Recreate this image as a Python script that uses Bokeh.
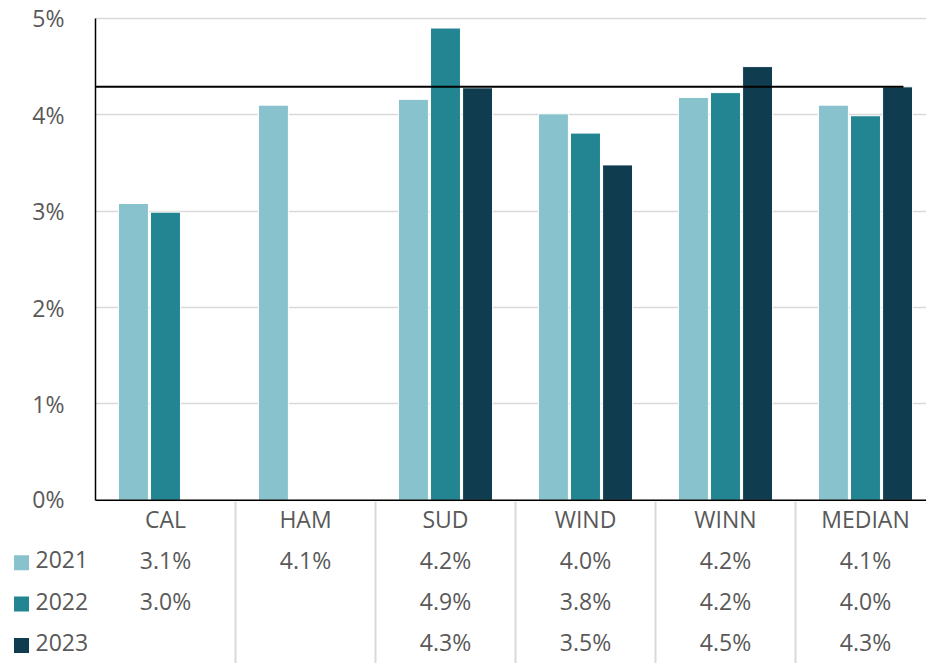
from bokeh.plotting import figure
from bokeh.layouts import column
from bokeh.models import Range1d, FixedTicker, Span, ColumnDataSource
from bokeh.core.properties import value
from bokeh.embed import file_html
from bokeh.resources import INLINE

# ---------------- data ----------------
categories = ["CAL", "HAM", "SUD", "WIND", "WINN", "MEDIAN"]
years = ["2021", "2022", "2023"]
v2021 = [3.08, 4.10, 4.16, 4.01, 4.18, 4.10]
v2022 = [2.99, None, 4.90, 3.81, 4.23, 3.99]
v2023 = [None, None, 4.28, 3.48, 4.50, 4.29]
series = [v2021, v2022, v2023]
y_ticks = [0, 1, 2, 3, 4, 5]
y_tick_labels = ["0%", "1%", "2%", "3%", "4%", "5%"]
colors = ["#88C2CD", "#228591", "#103C50"]
reference_value = v2023[-1]  # median 2023 reference line

# ---------------- style ----------------
FONT = "Open Sans"
TXT = "#595959"
FS = "23px"
PX = 140.0            # pixels per category
LEFT = 95             # chart frame starts at page x=95
FRAME_W = 831
OFFS = [-0.229, 0.0, 0.229]
BAR_W = 0.214
BOTTOM = 13           # room below the frame for the "0%" label

# ---------------- chart ----------------
p1 = figure(width=LEFT + FRAME_W, height=501 + BOTTOM,
            x_range=Range1d(0, FRAME_W / PX), y_range=Range1d(-0.012, 5.03),
            x_axis_type=None, output_backend="svg", toolbar_location=None,
            min_border_left=LEFT, min_border_right=0, min_border_top=15,
            min_border_bottom=BOTTOM)
p1.frame_align = False
p1.outline_line_color = None
p1.background_fill_color = "white"

ax = p1.yaxis[0]
ax.ticker = FixedTicker(ticks=y_ticks)
ax.major_label_overrides = {t: l for t, l in zip(y_ticks, y_tick_labels)}
ax.major_tick_line_color = None
ax.minor_tick_line_color = None
ax.axis_line_color = "black"
ax.axis_line_width = 1.5
ax.bounds = (0, 5)
ax.major_label_standoff = 25
ax.major_label_text_font = FONT
ax.major_label_text_font_size = FS
ax.major_label_text_color = TXT

p1.ygrid.ticker = FixedTicker(ticks=y_ticks)
p1.ygrid.grid_line_color = "#D9D9D9"
p1.ygrid.grid_line_width = 1.5

for j, vals in enumerate(series):
    xs = [i + 0.5 + OFFS[j] for i, v in enumerate(vals) if v is not None]
    tops = [v for v in vals if v is not None]
    src = ColumnDataSource(dict(x=xs, top=tops))
    p1.vbar(x="x", top="top", bottom=0, width=BAR_W, source=src,
            fill_color=colors[j], line_color="white", line_width=1)

p1.add_layout(Span(location=0, dimension="width", line_color="black", line_width=1.5))
p1.segment(x0=[-0.06], y0=[reference_value], x1=[5.771], y1=[reference_value],
           line_color="black", line_width=2)

# ---------------- data table ----------------
ROW_H = 41.3
row_top = -20 / ROW_H
H2 = 162
p2 = figure(width=LEFT + FRAME_W, height=H2,
            x_range=Range1d(-LEFT / PX, FRAME_W / PX),
            y_range=Range1d(row_top + H2 / ROW_H, row_top),
            x_axis_type=None, y_axis_type=None, output_backend="svg",
            toolbar_location=None, min_border=0)
p2.frame_align = False
p2.margin = (-BOTTOM, 0, 0, 0)
p2.outline_line_color = None
p2.background_fill_alpha = 0
p2.border_fill_alpha = 0
p2.xgrid.visible = False
p2.ygrid.visible = False

for k in range(1, len(categories)):
    p2.add_layout(Span(location=k, dimension="height", line_color="#D9D9D9", line_width=2))

TXT_KW = dict(text_baseline="middle", text_font=value(FONT), text_font_size=FS,
              text_color=TXT, y_offset=-3)

p2.text(x=[i + 0.5 for i in range(len(categories))], y=[0] * len(categories),
        text=categories, text_align="center", **TXT_KW)

for j, vals in enumerate(series):
    xs = [i + 0.5 for i, v in enumerate(vals) if v is not None]
    labels = ["%.1f%%" % v for v in vals if v is not None]
    p2.text(x=xs, y=[j + 1] * len(xs), text=labels, text_align="center", **TXT_KW)
    p2.scatter(x=[(21 - LEFT) / PX], y=[j + 1], marker="square", size=15,
               fill_color=colors[j], line_color=None)
    p2.text(x=[(35 - LEFT) / PX], y=[j + 1], text=[years[j]], text_align="left", **TXT_KW)

layout = column(p1, p2, spacing=0)
open("out.html", "w").write(file_html(layout, INLINE))
